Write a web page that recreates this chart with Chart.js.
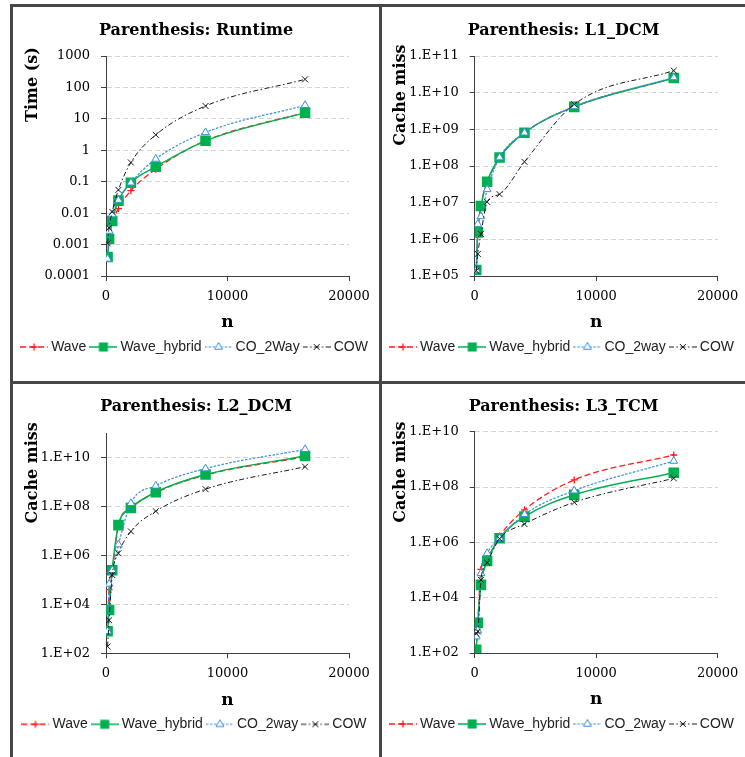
<!DOCTYPE html>
<html>
<head>
<meta charset="utf-8">
<script src="https://cdn.jsdelivr.net/npm/chart.js@4.4.1/dist/chart.umd.min.js"></script>
<style>
  html, body { margin: 0; padding: 0; background: #fff; }
  body { width: 745px; height: 757px; position: relative; overflow: hidden; }
  .rule { position: absolute; background: #474747; }
  .panel { position: absolute; }
</style>
</head>
<body>
<!-- frame -->
<div class="rule" style="left:10px;top:4px;width:735px;height:3px"></div>
<div class="rule" style="left:10px;top:4px;width:3px;height:753px"></div>
<div class="rule" style="left:379px;top:4px;width:3px;height:753px"></div>
<div class="rule" style="left:10px;top:381px;width:735px;height:3px"></div>

<div class="panel" style="left:13px;top:7px;width:366px;height:374px"><canvas id="runtimeChart"></canvas></div>
<div class="panel" style="left:382px;top:7px;width:363px;height:374px"><canvas id="l1Chart"></canvas></div>
<div class="panel" style="left:13px;top:384px;width:366px;height:373px"><canvas id="l2Chart"></canvas></div>
<div class="panel" style="left:382px;top:384px;width:363px;height:373px"><canvas id="l3Chart"></canvas></div>

<script>
// DATA
const nValues = [128, 256, 512, 1024, 2048, 4096, 8192, 16384];
const xTicks = [0, 10000, 20000];

const runtimeNames = ["Wave", "Wave_hybrid", "CO_2Way", "COW"];
const cacheNames = ["Wave", "Wave_hybrid", "CO_2way", "COW"];

const runtimeWave = [0.0004, 0.0015, 0.005, 0.014, 0.052, 0.25, 2.0, 16];
const runtimeHybrid = [0.0004, 0.0015, 0.0056, 0.025, 0.093, 0.30, 2.0, 15.8];
const runtimeCO = [0.00035, 0.0027, 0.009, 0.026, 0.093, 0.53, 3.7, 27];
const runtimeCOW = [0.0011, 0.0034, 0.011, 0.055, 0.41, 3.1, 25.7, 181];

const l1Wave = [1.4e5, 1.5e6, 8e6, 3.5e7, 1.7e8, 8.1e8, 4.1e9, 2.5e10];
const l1Hybrid = [1.45e5, 1.55e6, 8.1e6, 3.7e7, 1.7e8, 8.1e8, 4.1e9, 2.5e10];
const l1CO = [1.45e5, 2.6e6, 4.2e6, 2.3e7, 1.7e8, 8.1e8, 4.2e9, 2.6e10];
const l1COW = [1.4e5, 4e5, 1.4e6, 1.05e7, 1.7e7, 1.3e8, 4.8e9, 4.0e10];

const l2Wave = [800, 4e4, 2.5e5, 1.6e7, 8.5e7, 3.7e8, 1.95e9, 1.1e10];
const l2Hybrid = [800, 5900, 2.5e5, 1.75e7, 8.8e7, 3.9e8, 2.05e9, 1.17e10];
const l2CO = [800, 6.9e4, 2.5e5, 2.8e6, 1.37e8, 7.1e8, 3.6e9, 2.2e10];
const l2COW = [190, 2240, 1.6e5, 1.24e6, 9.7e6, 6.5e7, 5.2e8, 4.3e9];

const l3Wave = [130, 1200, 1.05e5, 2.8e5, 1.7e6, 1.5e7, 1.8e8, 1.44e9];
const l3Hybrid = [130, 1250, 2.9e4, 2.1e5, 1.4e6, 8.5e6, 5.2e7, 3.3e8];
const l3CO = [390, 650, 7.6e4, 4e5, 1.4e6, 1.03e7, 7.4e7, 8.7e8];
const l3COW = [500, 600, 4.4e4, 1.85e5, 1.35e6, 4.6e6, 2.8e7, 2.06e8];

const runtimeTicks = [0.0001, 0.001, 0.01, 0.1, 1, 10, 100, 1000];
const runtimeTickLabels = ["0.0001", "0.001", "0.01", "0.1", "1", "10", "100", "1000"];
const l1Ticks = [1e5, 1e6, 1e7, 1e8, 1e9, 1e10, 1e11];
const l1TickLabels = ["1.E+05", "1.E+06", "1.E+07", "1.E+08", "1.E+09", "1.E+10", "1.E+11"];
const evenTicks = [1e2, 1e4, 1e6, 1e8, 1e10];
const evenTickLabels = ["1.E+02", "1.E+04", "1.E+06", "1.E+08", "1.E+10"];

// STYLES
const SERIF = '"DejaVu Serif", serif';
const AXIS_COLOR = "#404040";
const STYLES = [
    { color: "#ff1a1a", dash: [6, 3], width: 1.3, point: "cross", radius: 3.5, fill: "#ff1a1a" },
    { color: "#00b050", dash: [], width: 1.5, point: "rect", radius: 6.4, fill: "#00b050" },
    { color: "#3a8fd9", dash: [2.5, 1.5], width: 1.2, point: "triangle", radius: 4.5, fill: "#ffffff" },
    { color: "#1a1a1a", dash: [5, 2.5, 1.5, 2.5], width: 1, point: "crossRot", radius: 4.2, fill: "#1a1a1a" },
];

// LEGEND ICONS (line sample + marker)
function drawMarker(g, s, x, y) {
    const r = s.radius;
    g.strokeStyle = s.color;
    g.fillStyle = s.fill;
    g.lineWidth = s.point === "triangle" ? 1 : s.width;
    g.beginPath();
    if (s.point === "cross") {
        g.moveTo(x - r, y); g.lineTo(x + r, y);
        g.moveTo(x, y - r); g.lineTo(x, y + r);
        g.stroke();
    } else if (s.point === "crossRot") {
        const d = r * Math.SQRT1_2;
        g.moveTo(x - d, y - d); g.lineTo(x + d, y + d);
        g.moveTo(x + d, y - d); g.lineTo(x - d, y + d);
        g.stroke();
    } else if (s.point === "rect") {
        const h = r * Math.SQRT1_2;
        g.fillRect(x - h, y - h, 2 * h, 2 * h);
    } else if (s.point === "triangle") {
        g.moveTo(x, y - r);
        g.lineTo(x + r * 0.866, y + r * 0.5);
        g.lineTo(x - r * 0.866, y + r * 0.5);
        g.closePath();
        g.fill();
        g.stroke();
    }
}

function makeIcon(s) {
    const c = document.createElement("canvas");
    c.width = 28;
    c.height = 14;
    const g = c.getContext("2d");
    g.strokeStyle = s.color;
    g.lineWidth = s.width;
    g.setLineDash(s.dash);
    g.beginPath();
    g.moveTo(0, 7);
    g.lineTo(28, 7);
    g.stroke();
    g.setLineDash([]);
    drawMarker(g, s, 14, 7);
    return c;
}
const legendIcons = STYLES.map(makeIcon);

// ROTATED Y TITLE
const yTitlePlugin = {
    id: "yTitle",
    afterDraw(chart, args, opts) {
        const { ctx, chartArea } = chart;
        ctx.save();
        ctx.translate(chartArea.left + opts.dx, chartArea.top + opts.dy);
        ctx.rotate(-Math.PI / 2);
        ctx.font = "bold 16px " + SERIF;
        ctx.fillStyle = "#000";
        ctx.textAlign = "center";
        ctx.textBaseline = "middle";
        ctx.fillText(opts.text, 0, 0);
        ctx.restore();
    },
};

// CHART
function makeChart(id, cfg) {
    const lay = cfg.layout;
    const datasets = cfg.series.map((vals, i) => {
        const s = STYLES[i];
        return {
            label: cfg.names[i],
            data: nValues.map((n, j) => ({ x: n, y: vals[j] })),
            order: 4 - i,
            borderColor: s.color,
            borderWidth: s.width,
            borderDash: s.dash,
            pointStyle: s.point,
            pointRadius: s.radius,
            pointBorderColor: s.color,
            pointBackgroundColor: s.fill,
            pointBorderWidth: s.point === "triangle" ? 1 : s.width,
            cubicInterpolationMode: "monotone",
            fill: false,
        };
    });

    return new Chart(document.getElementById(id), {
        type: "line",
        data: { datasets },
        plugins: [yTitlePlugin],
        options: {
            responsive: true,
            maintainAspectRatio: false,
            animation: false,
            events: [],
            layout: { padding: { left: 0, right: 0, top: 0, bottom: lay.padBottom } },
            scales: {
                x: {
                    type: "linear",
                    min: 0,
                    max: 20000,
                    afterBuildTicks: (axis) => { axis.ticks = xTicks.map((v) => ({ value: v })); },
                    afterFit: (axis) => { axis.paddingRight = lay.rightGap; },
                    ticks: {
                        callback: (v) => String(v),
                        color: "#000",
                        font: { family: SERIF, size: 13 },
                        padding: 8,
                        maxRotation: 0,
                    },
                    grid: { drawOnChartArea: false, tickLength: 5, tickColor: AXIS_COLOR },
                    border: { color: AXIS_COLOR, width: 1 },
                    title: {
                        display: true,
                        text: "n",
                        color: "#000",
                        font: { family: SERIF, size: 17, weight: "bold" },
                        padding: { top: 0, bottom: 0 },
                    },
                },
                y: {
                    type: "logarithmic",
                    min: cfg.yMin,
                    max: cfg.yMax,
                    afterBuildTicks: (axis) => { axis.ticks = cfg.ticks.map((v) => ({ value: v })); },
                    afterFit: (axis) => { axis.width = lay.axisW; },
                    ticks: {
                        callback: (v, i) => cfg.tickLabels[i],
                        color: "#000",
                        font: { family: SERIF, size: 13 },
                        padding: 11,
                        autoSkip: false,
                    },
                    grid: { color: "#d4d4d4", lineWidth: 1, tickLength: 5, tickColor: AXIS_COLOR, tickBorderDash: [] },
                    border: { color: AXIS_COLOR, width: 1, dash: [5, 3] },
                },
            },
            plugins: {
                title: {
                    display: true,
                    text: cfg.title,
                    color: "#000",
                    font: { family: SERIF, size: 16, weight: "bold" },
                    padding: { top: lay.titleTop, bottom: lay.titleBottom },
                },
                legend: {
                    position: "bottom",
                    labels: {
                        usePointStyle: true,
                        pointStyleWidth: 20,
                        padding: 7,
                        color: "#222",
                        font: { family: '"Liberation Sans", Arial, sans-serif', size: 14 },
                        generateLabels: (chart) => chart.data.datasets.map((ds, i) => ({
                            text: ds.label,
                            pointStyle: legendIcons[i],
                            datasetIndex: i,
                            hidden: false,
                            fontColor: "#222",
                            lineWidth: 0,
                            strokeStyle: "transparent",
                            fillStyle: "transparent",
                        })),
                    },
                },
                tooltip: { enabled: false },
                yTitle: { text: cfg.yTitle, dx: lay.yTitleDx, dy: lay.yTitleDy },
            },
        },
    });
}

// INIT
makeChart("runtimeChart", {
    title: "Parenthesis: Runtime",
    yTitle: "Time (s)",
    names: runtimeNames,
    series: [runtimeWave, runtimeHybrid, runtimeCO, runtimeCOW],
    yMin: 0.0001, yMax: 1000,
    ticks: runtimeTicks, tickLabels: runtimeTickLabels,
    layout: { axisW: 93, rightGap: 30, padBottom: 17, titleTop: 14.4, titleBottom: 15.4, yTitleDx: -73.5, yTitleDy: 28.5 },
});

makeChart("l1Chart", {
    title: "Parenthesis: L1_DCM",
    yTitle: "Cache miss",
    names: cacheNames,
    series: [l1Wave, l1Hybrid, l1CO, l1COW],
    yMin: 1e5, yMax: 1e11,
    ticks: l1Ticks, tickLabels: l1TickLabels,
    layout: { axisW: 92.7, rightGap: 27.3, padBottom: 17, titleTop: 14.4, titleBottom: 15.4, yTitleDx: -74, yTitleDy: 39 },
});

makeChart("l2Chart", {
    title: "Parenthesis: L2_DCM",
    yTitle: "Cache miss",
    names: cacheNames,
    series: [l2Wave, l2Hybrid, l2CO, l2COW],
    yMin: 1e2, yMax: 1e11,
    ticks: evenTicks, tickLabels: evenTickLabels,
    layout: { axisW: 93, rightGap: 30, padBottom: 15.7, titleTop: 13.7, titleBottom: 16.4, yTitleDx: -73.5, yTitleDy: 39.5 },
});

makeChart("l3Chart", {
    title: "Parenthesis: L3_TCM",
    yTitle: "Cache miss",
    names: cacheNames,
    series: [l3Wave, l3Hybrid, l3CO, l3COW],
    yMin: 1e2, yMax: 1e10,
    ticks: evenTicks, tickLabels: evenTickLabels,
    layout: { axisW: 92.7, rightGap: 27.3, padBottom: 16, titleTop: 13.1, titleBottom: 15.4, yTitleDx: -74, yTitleDy: 40.5 },
});
</script>
</body>
</html>
